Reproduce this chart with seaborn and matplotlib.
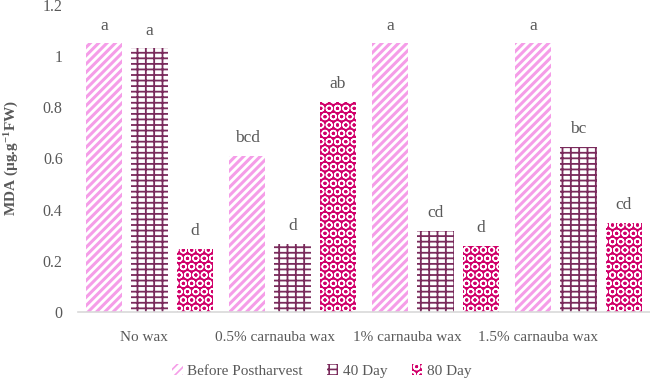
import pandas as pd
import seaborn as sns
import matplotlib.pyplot as plt
from matplotlib.patches import Patch

# values
treatments = ["No wax", "0.5% carnauba wax", "1% carnauba wax", "1.5% carnauba wax"]
times = ["Before Postharvest", "40 Day", "80 Day"]
before_vals = [1.05, 0.61, 1.05, 1.05]
day40_vals = [1.03, 0.267, 0.318, 0.645]
day80_vals = [0.247, 0.82, 0.259, 0.348]
before_letters = ["a", "bcd", "a", "a"]
day40_letters = ["a", "d", "cd", "bc"]
day80_letters = ["d", "ab", "d", "cd"]

df = pd.DataFrame({
    "Treatment": treatments * 3,
    "Time": [t for t in times for _ in treatments],
    "MDA": before_vals + day40_vals + day80_vals,
})
letters = [before_letters, day40_letters, day80_letters]

sns.set_style("white")
plt.rcParams["font.family"] = ["Liberation Serif", "DejaVu Serif"]
plt.rcParams["mathtext.fontset"] = "custom"
plt.rcParams["mathtext.rm"] = "Liberation Serif:bold"
plt.rcParams["mathtext.it"] = "Liberation Serif:bold"
plt.rcParams["hatch.linewidth"] = 1.2

grey = "#595959"
# (face, hatch colour, hatch, hatch width)
styles = [
    ("white", "#F59DE8", "////", 2.2),
    ("white", "#7A2B5C", "---||", 1.3),
    ("#D1006A", "white", "OO", 1.0),
]

fig = plt.figure(figsize=(6.5, 3.8), dpi=100)
ax = fig.add_axes([0.12, 0.179, 0.88, 0.808])

sns.barplot(data=df, x="Treatment", y="MDA", hue="Time", width=0.95, gap=0.2,
            palette=["#F59DE8", "#7A2B5C", "#D1006A"], legend=False, ax=ax)

for cont, (fc, hc, h, hw), labs in zip(ax.containers, styles, letters):
    for bar in cont:
        bar.set_facecolor(fc)
        bar.set_edgecolor(hc)
        bar.set_hatch(h)
        bar.set_linewidth(0)
        if hasattr(bar, "set_hatch_linewidth"):
            bar.set_hatch_linewidth(hw)
    ax.bar_label(cont, labels=labs, padding=7, fontsize=12.5, color=grey)

ax.set_ylim(0, 1.2)
ax.set_xlim(-0.5, 3.5)
ax.set_yticks([0, 0.2, 0.4, 0.6, 0.8, 1, 1.2])
ax.set_yticklabels(["0", "0.2", "0.4", "0.6", "0.8", "1", "1.2"])
# category labels sit a little left of the bar groups, as in the source chart
ax.set_xticks([-0.04, 0.88, 1.8, 2.72])
ax.set_xticklabels(treatments)
ax.set_xlabel("")
ax.set_ylabel(r"MDA (µg.g$^{-1}$FW)", fontsize=11, fontweight="bold", color=grey,
              labelpad=16)
ax.tick_params(axis="both", length=0, labelsize=11.5, labelcolor=grey)
ax.tick_params(axis="x", pad=14, labelsize=11)
ax.tick_params(axis="y", pad=11)
for s in ["top", "right", "left"]:
    ax.spines[s].set_visible(False)
ax.spines["bottom"].set_color("#D9D9D9")
ax.spines["bottom"].set_linewidth(1.2)

handles = []
for fc, hc, h, hw in styles:
    handles.append(Patch(facecolor=fc, edgecolor=hc, hatch=h, linewidth=0))
fig.legend(handles, times, loc="lower center", bbox_to_anchor=(0.495, -0.03), ncol=3,
           frameon=False, fontsize=11, handlelength=0.7, handleheight=0.7,
           handletextpad=0.3, columnspacing=1.6, labelcolor=grey)

fig.savefig("out.png", dpi=100)
